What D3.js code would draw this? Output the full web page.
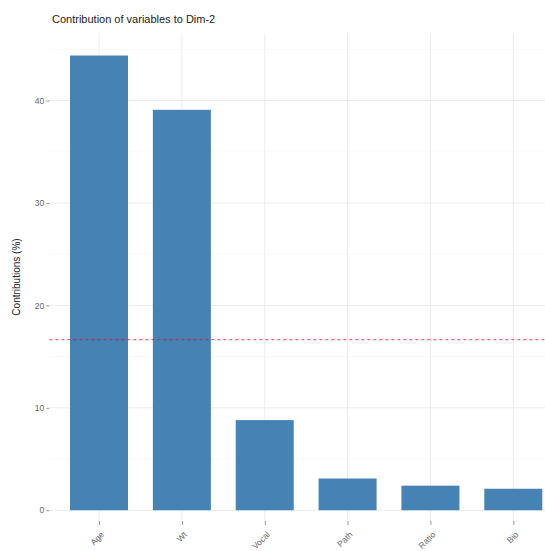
<!DOCTYPE html>
<html><head><meta charset="utf-8">
<script src="https://cdn.jsdelivr.net/npm/d3@7"></script>
<style>body{margin:0;background:#fff}svg{display:block}</style>
</head><body>
<script>
const categories = ["Age", "Wt", "Vocal", "Path", "Ratio", "Bio"];
const contributions = [44.4, 39.1, 8.8, 3.1, 2.4, 2.1];
const yTicks = [0, 10, 20, 30, 40];
const title = "Contribution of variables to Dim-2";
const yTitle = "Contributions (%)";
const refLine = 100 / categories.length;

const W = 545, H = 551;
const svg = d3.select("body").append("svg").attr("width", W).attr("height", H);
const L = 49.3, R = 563, T = 33, B = 521;

// ggplot-style discrete axis: 0.6 unit expansion each side
const unit = (R - L) / (categories.length - 1 + 1.2);
const xs = d3.scalePoint().domain(categories).range([L + 0.6 * unit, R - 0.6 * unit]);
const y = d3.scaleLinear().domain([-1.05, 46.6]).range([B, T]);

const g = svg.append("g");
[5, 15, 25, 35, 45].forEach(v => g.append("line").attr("x1", L).attr("x2", R).attr("y1", y(v)).attr("y2", y(v)).attr("stroke", "#f2f2f2").attr("stroke-width", 0.5));
yTicks.forEach(v => g.append("line").attr("x1", L).attr("x2", R).attr("y1", y(v)).attr("y2", y(v)).attr("stroke", "#ebebeb").attr("stroke-width", 1));
categories.forEach(c => g.append("line").attr("x1", xs(c)).attr("x2", xs(c)).attr("y1", T).attr("y2", B).attr("stroke", "#ebebeb").attr("stroke-width", 1));

g.selectAll("rect.bar").data(categories).join("rect").attr("class", "bar")
  .attr("x", c => xs(c) - 0.35 * unit).attr("width", 0.7 * unit)
  .attr("y", (c, i) => y(contributions[i])).attr("height", (c, i) => y(0) - y(contributions[i]))
  .attr("fill", "#4682B4");

g.append("line").attr("x1", L).attr("x2", R).attr("y1", y(refLine)).attr("y2", y(refLine))
  .style("stroke", "red").style("stroke-opacity", 0.6).attr("stroke-width", 1.2).attr("stroke-dasharray", "3,3");

const yAxis = svg.append("g").attr("transform", `translate(${L},0)`)
  .call(d3.axisLeft(y).tickValues(yTicks).tickSize(3).tickPadding(2));
yAxis.select(".domain").remove();
yAxis.selectAll(".tick line").attr("stroke", "#999");
yAxis.selectAll("text").attr("fill", "#666").style("font-family", "Liberation Sans, Arial, sans-serif").style("font-size", "8.5px");

const xAxis = svg.append("g").attr("transform", `translate(0,${B})`)
  .call(d3.axisBottom(xs).tickSize(4).tickPadding(3));
xAxis.select(".domain").remove();
xAxis.selectAll(".tick line").attr("stroke", "#999");
xAxis.selectAll("text").attr("fill", "#666").style("font-family", "Liberation Sans, Arial, sans-serif").style("font-size", "8.5px")
  .attr("text-anchor", "end").attr("dy", "0.35em").attr("y", 0).attr("transform", "translate(3,12) rotate(-45)");

svg.append("text").attr("x", 52).attr("y", 23).text(title)
  .attr("fill", "#222").style("font-family", "Liberation Sans, Arial, sans-serif").style("font-size", "11px");
svg.append("text").attr("transform", `translate(20,${(T + B) / 2}) rotate(-90)`).attr("text-anchor", "middle")
  .text(yTitle).attr("fill", "#222").style("font-family", "Liberation Sans, Arial, sans-serif").style("font-size", "10px");
</script>
</body></html>
